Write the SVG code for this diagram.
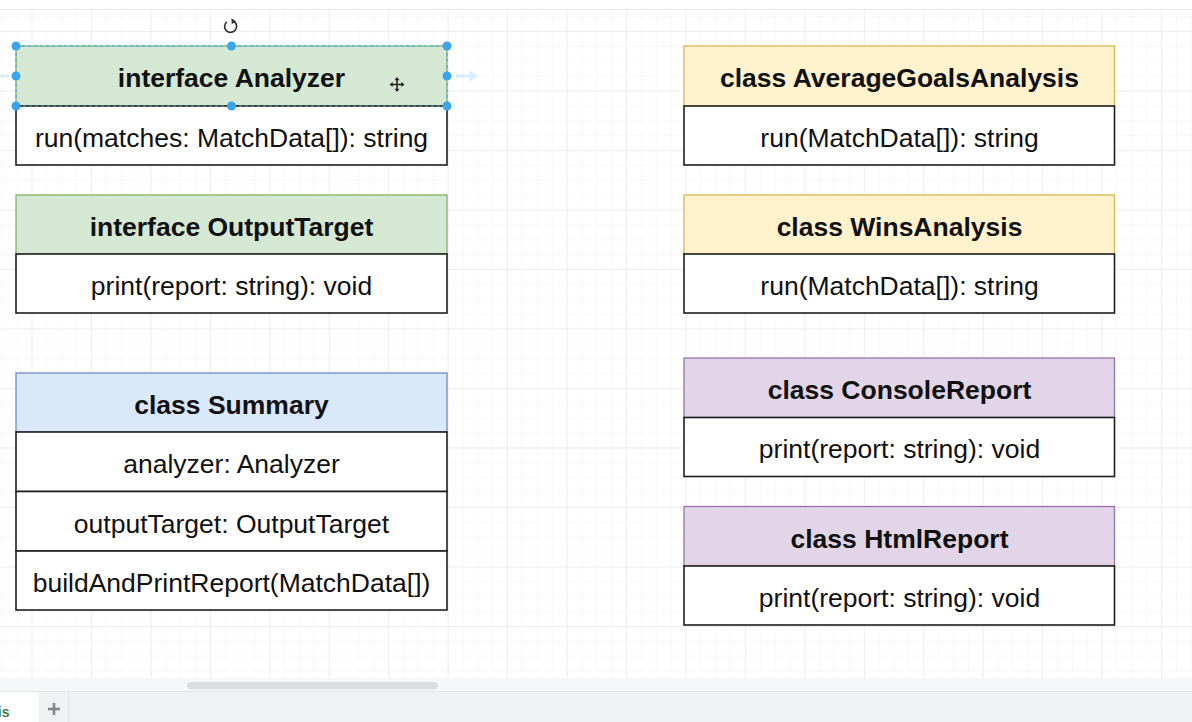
<svg xmlns="http://www.w3.org/2000/svg" width="1192" height="722" viewBox="0 0 1192 722">
  <defs>
    <pattern id="minor" patternUnits="userSpaceOnUse" x="1.78" y="1.25" width="14.8625" height="14.875">
      <path d="M 14.8625 0 L 0 0 0 14.875" fill="none" stroke="#f1f1f1" stroke-width="1"/>
    </pattern>
    <pattern id="major" patternUnits="userSpaceOnUse" x="31.5" y="31" width="59.45" height="59.5">
      <path d="M 59.45 0 L 0 0 0 59.5" fill="none" stroke="#e3e3e3" stroke-width="1"/>
    </pattern>
    <style>
      .hdr { font-family: "Liberation Sans", Arial, Helvetica, sans-serif; font-size: 26.5px; font-weight: bold; fill: #111; text-anchor: middle; }
      .txt { font-family: "Liberation Sans", Arial, Helvetica, sans-serif; font-size: 26.5px; fill: #111; text-anchor: middle; }
      .body { fill: #ffffff; stroke: #1e1e1e; stroke-width: 1.6; }
      .green { fill: #d5e8d4; stroke: #82b366; stroke-width: 1.3; }
      .orange { fill: #fff2cc; stroke: #d6b656; stroke-width: 1.3; }
      .blue { fill: #dae8fc; stroke: #6c8ebf; stroke-width: 1.3; }
      .purple { fill: #e1d5e7; stroke: #9673a6; stroke-width: 1.3; }
      .handle { fill: #3aa5ee; stroke: none; }
    </style>
  </defs>

  <!-- canvas -->
  <rect x="0" y="0" width="1192" height="722" fill="#ffffff"/>
  <rect x="0" y="10" width="1192" height="668" fill="url(#minor)"/>
  <rect x="0" y="10" width="1192" height="668" fill="url(#major)"/>
  <line x1="0" y1="9.5" x2="1192" y2="9.5" stroke="#e6e6e6" stroke-width="1"/>

  <!-- bottom bars -->
  <rect x="0" y="678" width="1192" height="13" fill="#f5f7f8"/>
  <rect x="187" y="682" width="251" height="7.5" rx="3.75" fill="#dcdddf"/>
  <rect x="0" y="691" width="1192" height="31" fill="#eff1f3"/>
  <line x1="0" y1="691.5" x2="1192" y2="691.5" stroke="#e2e5e8" stroke-width="1"/>
  <rect x="0" y="692" width="39" height="30" fill="#ffffff"/>
  <line x1="68.5" y1="692" x2="68.5" y2="722" stroke="#e0e3e6" stroke-width="1"/>
  <text x="9.5" y="716.5" font-family="'Liberation Sans', Arial, sans-serif" font-size="14" font-weight="bold" fill="#3b7d46" text-anchor="end">is</text>
  <g stroke="#858585" stroke-width="2.6">
    <line x1="48" y1="709" x2="60" y2="709"/>
    <line x1="54" y1="703" x2="54" y2="715"/>
  </g>

  <!-- connectors (none) -->
  <g id="connectors"></g>

  <!-- interface Analyzer -->
  <g id="analyzer">
    <rect class="green" x="16" y="46" width="431" height="60"/>
    <rect class="body" x="16" y="106" width="431" height="59"/>
    <text class="hdr" x="231.5" y="87">interface Analyzer</text>
    <text class="txt" x="231.5" y="146.5">run(matches: MatchData[]): string</text>
  </g>

  <!-- interface OutputTarget -->
  <g id="outputtarget">
    <rect class="green" x="16" y="195" width="431" height="59"/>
    <rect class="body" x="16" y="254" width="431" height="59"/>
    <text class="hdr" x="231.5" y="235.5">interface OutputTarget</text>
    <text class="txt" x="231.5" y="294.5">print(report: string): void</text>
  </g>

  <!-- class Summary -->
  <g id="summary">
    <rect class="blue" x="16" y="373" width="431" height="59"/>
    <rect class="body" x="16" y="432" width="431" height="59.5"/>
    <rect class="body" x="16" y="491.5" width="431" height="59.5"/>
    <rect class="body" x="16" y="551" width="431" height="59"/>
    <text class="hdr" x="231.5" y="414">class Summary</text>
    <text class="txt" x="231.5" y="473">analyzer: Analyzer</text>
    <text class="txt" x="231.5" y="532.5">outputTarget: OutputTarget</text>
    <text class="txt" x="231.5" y="591.5">buildAndPrintReport(MatchData[])</text>
  </g>

  <!-- class AverageGoalsAnalysis -->
  <g id="averagegoals">
    <rect class="orange" x="684" y="46" width="430.5" height="60"/>
    <rect class="body" x="684" y="106" width="430.5" height="59"/>
    <text class="hdr" x="899.5" y="87">class AverageGoalsAnalysis</text>
    <text class="txt" x="899.5" y="146.5">run(MatchData[]): string</text>
  </g>

  <!-- class WinsAnalysis -->
  <g id="winsanalysis">
    <rect class="orange" x="684" y="195" width="430.5" height="59"/>
    <rect class="body" x="684" y="254" width="430.5" height="59"/>
    <text class="hdr" x="899.5" y="235.5">class WinsAnalysis</text>
    <text class="txt" x="899.5" y="294.5">run(MatchData[]): string</text>
  </g>

  <!-- class ConsoleReport -->
  <g id="consolereport">
    <rect class="purple" x="684" y="358" width="430.5" height="59.5"/>
    <rect class="body" x="684" y="417.5" width="430.5" height="59"/>
    <text class="hdr" x="899.5" y="399">class ConsoleReport</text>
    <text class="txt" x="899.5" y="458">print(report: string): void</text>
  </g>

  <!-- class HtmlReport -->
  <g id="htmlreport">
    <rect class="purple" x="684" y="506.5" width="430.5" height="59.5"/>
    <rect class="body" x="684" y="566" width="430.5" height="59"/>
    <text class="hdr" x="899.5" y="547.5">class HtmlReport</text>
    <text class="txt" x="899.5" y="606.5">print(report: string): void</text>
  </g>

  <!-- selection overlay on Analyzer header -->
  <g id="selection">
    <rect x="16" y="46" width="431" height="60" fill="none" stroke="#3aa5ee" stroke-width="1" stroke-dasharray="3 3"/>
    <circle class="handle" cx="16" cy="46" r="4.5"/>
    <circle class="handle" cx="231.5" cy="46" r="4.5"/>
    <circle class="handle" cx="447" cy="46" r="4.5"/>
    <circle class="handle" cx="16" cy="76" r="4.5"/>
    <circle class="handle" cx="447" cy="76" r="4.5"/>
    <circle class="handle" cx="16" cy="106" r="4.5"/>
    <circle class="handle" cx="231.5" cy="106" r="4.5"/>
    <circle class="handle" cx="447" cy="106" r="4.5"/>
    <!-- hover arrows -->
    <path d="M 456 74.3 L 469 74.3 L 469 70 L 478 76 L 469 82 L 469 77.7 L 456 77.7 Z" fill="#dbeefb"/>
    <path d="M 0 74.3 L 9 74.3 L 9 77.7 L 0 77.7 Z" fill="#dbeefb"/>
    <!-- rotate handle -->
    <path d="M 226.8 21.8 A 6 6 0 1 0 234 21.5" fill="none" stroke="#333" stroke-width="1.7"/>
    <path d="M 231.4 18.2 L 236 21.2 L 231.8 24.2 Z" fill="#333"/>
    <!-- move cursor -->
    <g stroke="#222" stroke-width="1.5" fill="#222">
      <line x1="397" y1="78.5" x2="397" y2="90.5"/>
      <line x1="391" y1="84.5" x2="403" y2="84.5"/>
      <path d="M 397 77 L 394.5 80.2 L 399.5 80.2 Z" stroke="none"/>
      <path d="M 397 92 L 394.5 88.8 L 399.5 88.8 Z" stroke="none"/>
      <path d="M 389.5 84.5 L 392.7 82 L 392.7 87 Z" stroke="none"/>
      <path d="M 404.5 84.5 L 401.3 82 L 401.3 87 Z" stroke="none"/>
    </g>
  </g>
</svg>
